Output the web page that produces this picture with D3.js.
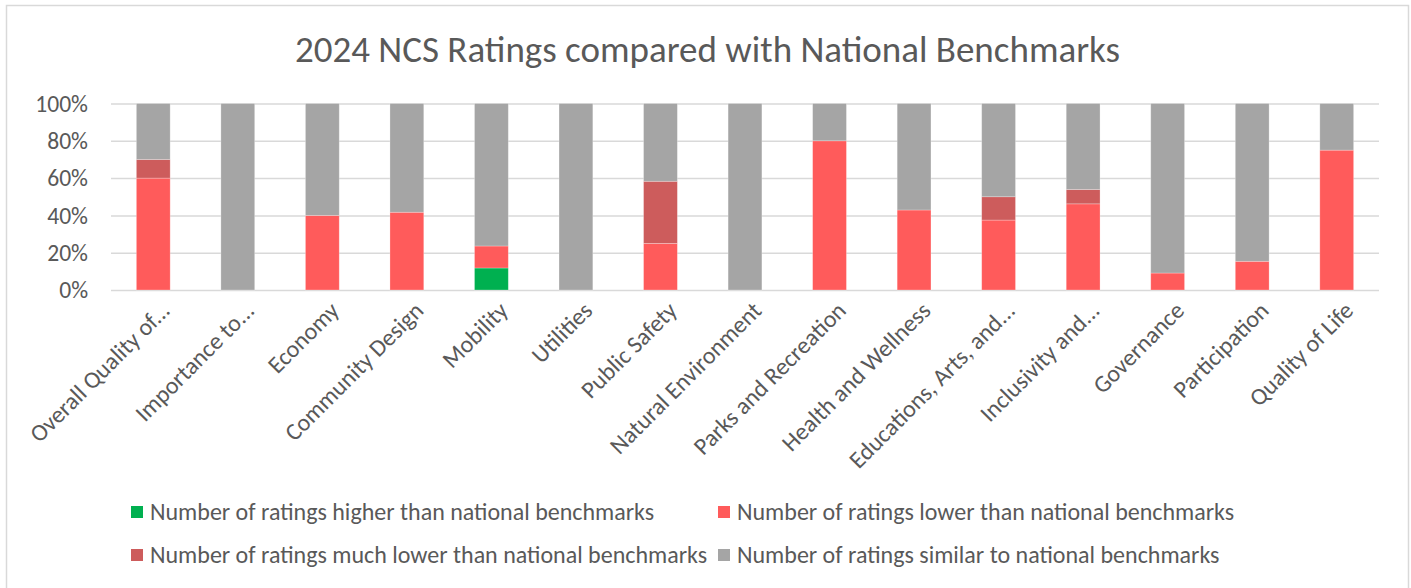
<!DOCTYPE html>
<html>
<head>
<meta charset="utf-8">
<script src="https://cdn.jsdelivr.net/npm/d3@7"></script>
<style>
  html, body { margin: 0; padding: 0; background: #ffffff; }
  svg { display: block; }
  text { font-family: Carlito, Calibri, Lato, sans-serif; fill: #595959; }
</style>
</head>
<body>
<svg id="chart" width="1411" height="588"></svg>
<script>
// ---- data ----
const title = "2024 NCS Ratings compared with National Benchmarks";
const categories = [
  "Overall Quality of...", "Importance to...", "Economy", "Community Design", "Mobility",
  "Utilities", "Public Safety", "Natural Environment", "Parks and Recreation", "Health and Wellness",
  "Educations, Arts, and...", "Inclusivity and...", "Governance", "Participation", "Quality of Life"
];
const seriesNames = [
  "Number of ratings higher than national benchmarks",
  "Number of ratings lower than national benchmarks",
  "Number of ratings much lower than national benchmarks",
  "Number of ratings similar to national benchmarks"
];
const seriesKeys = ["higher", "lower", "muchLower", "similar"];
// shares in percent
const higher    = [0,  0,   0,    0,    11.8, 0,   0,    0,   0,  0,    0,    0,    0,    0,    0];
const lower     = [60, 0,   40,   41.7, 11.8, 0,   25,   0,   80, 42.9, 37.5, 46.2, 9.1,  15.4, 75];
const muchLower = [10, 0,   0,    0,    0,    0,   33.3, 0,   0,  0,    12.5, 7.7,  0,    0,    0];
const similar   = [30, 100, 60,   58.3, 76.4, 100, 41.7, 100, 20, 57.1, 50,   46.1, 90.9, 84.6, 25];
const yTicks = [0, 0.2, 0.4, 0.6, 0.8, 1.0];
const colors = ["#00B050", "#FF5B5B", "#CD5C5C", "#A5A5A5"];

// ---- layout ----
const W = 1411, H = 588;
const plot = { left: 111, right: 1379, top: 103.5, bottom: 290 };
const svg = d3.select("#chart");

svg.append("rect").attr("x", 6.5).attr("y", 5.5).attr("width", 1402).attr("height", 600)
  .attr("fill", "#fff").attr("stroke", "#d9d9d9").attr("stroke-width", 1.5);

svg.append("text").attr("x", 707.5).attr("y", 62).attr("text-anchor", "middle")
  .style("font-size", "37px").text(title);

const rows = categories.map((c, i) => {
  const tot = higher[i] + lower[i] + muchLower[i] + similar[i];
  return { cat: c, higher: higher[i] / tot, lower: lower[i] / tot, muchLower: muchLower[i] / tot, similar: similar[i] / tot };
});

const x = d3.scaleBand().domain(categories).range([plot.left, plot.right]).paddingInner(0.6).paddingOuter(0.3);
const y = d3.scaleLinear().domain([0, 1]).range([plot.bottom, plot.top]);

// gridlines
const yAxis = d3.axisLeft(y).tickValues(yTicks).tickFormat(d3.format(".0%"))
  .tickSize(-(plot.right - plot.left)).tickPadding(23);
const gy = svg.append("g").attr("transform", `translate(${plot.left},0)`).call(yAxis);
gy.select(".domain").remove();
gy.selectAll(".tick line").attr("stroke", "#d9d9d9").attr("stroke-width", 1.5);
gy.selectAll(".tick text").style("font-size", "23.6px").attr("fill", "#595959").attr("dy", "0.33em");

// bars
const stack = d3.stack().keys(seriesKeys)(rows);
svg.append("g").selectAll("g").data(stack).join("g")
  .attr("fill", (d, i) => colors[i])
  .selectAll("rect").data(d => d).join("rect")
  .attr("x", d => x(d.data.cat))
  .attr("width", x.bandwidth())
  .attr("y", d => y(d[1]))
  .attr("height", d => Math.max(0, y(d[0]) - y(d[1])))
  .attr("stroke", "rgba(255,255,255,0.35)").attr("stroke-width", 0.75);

// x axis labels
const gx = svg.append("g").attr("transform", `translate(0,${plot.bottom})`)
  .call(d3.axisBottom(x).tickSize(0).tickFormat(d => d));
gx.select(".domain").remove();
gx.selectAll(".tick text")
  .style("font-size", "24px").attr("fill", "#595959")
  .attr("text-anchor", "end")
  .attr("x", 0).attr("y", 0).attr("dy", 0)
  .attr("transform", "translate(18,22) rotate(-45)");

// legend
const legendPos = [
  { x: 131, y: 512 }, { x: 718, y: 512 },
  { x: 131, y: 555 }, { x: 718, y: 555 }
];
const lg = svg.append("g").selectAll("g").data(seriesNames).join("g")
  .attr("transform", (d, i) => `translate(${legendPos[i].x},${legendPos[i].y})`);
lg.append("rect").attr("x", 0).attr("y", -6).attr("width", 12).attr("height", 12)
  .attr("fill", (d, i) => colors[i]);
lg.append("text").attr("x", 19).attr("y", 0).attr("dy", "0.35em")
  .style("font-size", "24px").text(d => d);
</script>
</body>
</html>
